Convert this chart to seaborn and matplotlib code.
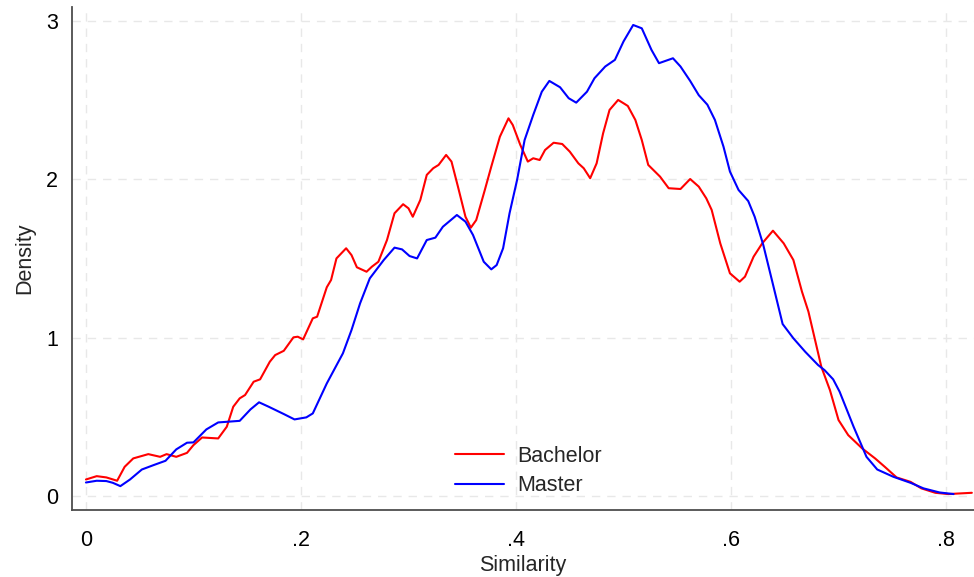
import matplotlib
matplotlib.use("Agg")
import matplotlib.pyplot as plt
import seaborn as sns
import pandas as pd

bachelor_x = [0, 0.010, 0.019, 0.029, 0.036, 0.044, 0.058, 0.069, 0.075, 0.084, 0.094, 0.100, 0.108, 0.123, 0.131,
              0.137, 0.143, 0.148, 0.156, 0.162, 0.171, 0.176, 0.184, 0.193, 0.197, 0.202, 0.211, 0.215, 0.224, 0.228,
              0.233, 0.242, 0.247, 0.252, 0.261, 0.266, 0.272, 0.280, 0.287, 0.295, 0.300, 0.304, 0.311, 0.317, 0.323,
              0.328, 0.335, 0.340, 0.346, 0.353, 0.358, 0.363, 0.371, 0.377, 0.385, 0.393, 0.397, 0.404, 0.411, 0.416,
              0.422, 0.427, 0.435, 0.443, 0.450, 0.458, 0.463, 0.469, 0.475, 0.481, 0.487, 0.495, 0.501, 0.504, 0.511,
              0.517, 0.523, 0.534, 0.542, 0.553, 0.562, 0.570, 0.577, 0.582, 0.590, 0.599, 0.608, 0.613, 0.621, 0.629,
              0.639, 0.649, 0.658, 0.666, 0.672, 0.678, 0.684, 0.692, 0.700, 0.709, 0.722, 0.734, 0.743, 0.754, 0.767,
              0.777, 0.790, 0.802, 0.813, 0.824]
bachelor_y = [0.105, 0.126, 0.118, 0.097, 0.185, 0.238, 0.265, 0.248, 0.265, 0.248, 0.273, 0.322, 0.370, 0.364, 0.438,
              0.564, 0.617, 0.638, 0.722, 0.737, 0.848, 0.890, 0.917, 1.002, 1.006, 0.989, 1.122, 1.132, 1.318, 1.364,
              1.500, 1.564, 1.521, 1.444, 1.416, 1.448, 1.479, 1.616, 1.785, 1.842, 1.816, 1.763, 1.869, 2.027, 2.069,
              2.090, 2.153, 2.111, 1.953, 1.763, 1.694, 1.742, 1.932, 2.079, 2.268, 2.384, 2.342, 2.216, 2.111, 2.132,
              2.121, 2.184, 2.230, 2.222, 2.174, 2.100, 2.069, 2.006, 2.100, 2.289, 2.437, 2.500, 2.475, 2.462, 2.374,
              2.247, 2.090, 2.016, 1.943, 1.938, 2.001, 1.953, 1.879, 1.806, 1.595, 1.406, 1.353, 1.385, 1.511, 1.595,
              1.675, 1.595, 1.490, 1.290, 1.164, 0.990, 0.816, 0.669, 0.480, 0.385, 0.301, 0.238, 0.185, 0.118, 0.090,
              0.049, 0.021, 0.013, 0.017, 0.021]

master_x = [0, 0.010, 0.019, 0.025, 0.032, 0.041, 0.052, 0.063, 0.074, 0.084, 0.094, 0.100, 0.112, 0.123, 0.143,
            0.153, 0.161, 0.170, 0.184, 0.194, 0.205, 0.211, 0.224, 0.239, 0.247, 0.255, 0.264, 0.277, 0.287, 0.294,
            0.301, 0.308, 0.317, 0.325, 0.332, 0.345, 0.353, 0.360, 0.370, 0.377, 0.382, 0.388, 0.394, 0.401, 0.408,
            0.416, 0.424, 0.431, 0.441, 0.449, 0.456, 0.466, 0.473, 0.483, 0.492, 0.500, 0.509, 0.517, 0.526, 0.533,
            0.546, 0.553, 0.562, 0.570, 0.578, 0.585, 0.593, 0.599, 0.607, 0.616, 0.622, 0.630, 0.638, 0.648, 0.658,
            0.669, 0.681, 0.687, 0.695, 0.701, 0.714, 0.726, 0.736, 0.751, 0.767, 0.779, 0.794, 0.807]
master_y = [0.086, 0.097, 0.095, 0.084, 0.063, 0.105, 0.168, 0.196, 0.223, 0.295, 0.337, 0.339, 0.421, 0.465, 0.475,
            0.547, 0.592, 0.564, 0.518, 0.484, 0.497, 0.522, 0.711, 0.901, 1.048, 1.217, 1.374, 1.490, 1.568, 1.557,
            1.515, 1.500, 1.616, 1.631, 1.700, 1.774, 1.732, 1.648, 1.479, 1.431, 1.458, 1.564, 1.785, 1.995, 2.247,
            2.405, 2.552, 2.620, 2.580, 2.511, 2.483, 2.552, 2.637, 2.711, 2.753, 2.869, 2.973, 2.952, 2.816, 2.732,
            2.763, 2.711, 2.620, 2.530, 2.470, 2.374, 2.205, 2.048, 1.932, 1.862, 1.763, 1.585, 1.364, 1.086, 0.996,
            0.911, 0.827, 0.795, 0.737, 0.659, 0.438, 0.248, 0.168, 0.122, 0.084, 0.049, 0.023, 0.013]

assert len(bachelor_x) == len(bachelor_y)
assert len(master_x) == len(master_y)

series_names = ["Bachelor", "Master"]
series_colors = ["#ff0000", "#0000ff"]
x_ticks = [0, 0.2, 0.4, 0.6, 0.8]
x_tick_labels = ["0", ".2", ".4", ".6", ".8"]
y_ticks = [0, 1, 2, 3]
y_tick_labels = ["0", "1", "2", "3"]

df = pd.concat([
    pd.DataFrame({"Similarity": bachelor_x, "Density": bachelor_y, "group": series_names[0]}),
    pd.DataFrame({"Similarity": master_x, "Density": master_y, "group": series_names[1]}),
], ignore_index=True)

sns.set_style("white")
plt.rcParams["font.family"] = ["Liberation Sans", "DejaVu Sans"]

FS = 15.5
fig = plt.figure(figsize=(9.74, 5.77), dpi=100)
ax = fig.add_axes([0.0739, 0.116, 0.9261, 0.872])

sns.lineplot(data=df, x="Similarity", y="Density", hue="group", hue_order=series_names,
             palette=series_colors, estimator=None, sort=False, linewidth=1.5, ax=ax)

ax.set_xlim(-0.013, 0.826)
ax.set_ylim(-0.088, 3.087)
ax.set_xticks(x_ticks)
ax.set_xticklabels(x_tick_labels)
ax.set_yticks(y_ticks)
ax.set_yticklabels(y_tick_labels)

ax.grid(True, color="#e8e8e8", linestyle=(0, (6, 5)), linewidth=1.0)
ax.set_axisbelow(True)
for s in ["top", "right"]:
    ax.spines[s].set_visible(False)
for s in ["left", "bottom"]:
    ax.spines[s].set_color("#4d4d4d")
    ax.spines[s].set_linewidth(1.3)
ax.tick_params(axis="x", direction="out", length=5, width=1.2, color="#4d4d4d",
               labelsize=FS, labelcolor="black", pad=9)
ax.tick_params(axis="y", direction="out", length=6.5, width=1.2, color="#4d4d4d",
               labelsize=FS, labelcolor="black", pad=3.5)
ax.set_xlabel("Similarity", fontsize=FS, labelpad=3)
ax.set_ylabel("Density", fontsize=FS, labelpad=7.5)

leg = ax.legend(loc="center", bbox_to_anchor=(0.506, 0.0775), frameon=False, fontsize=FS,
                handlelength=2.28, handletextpad=0.65, labelspacing=0.38)

fig.savefig("out.png", dpi=100)
